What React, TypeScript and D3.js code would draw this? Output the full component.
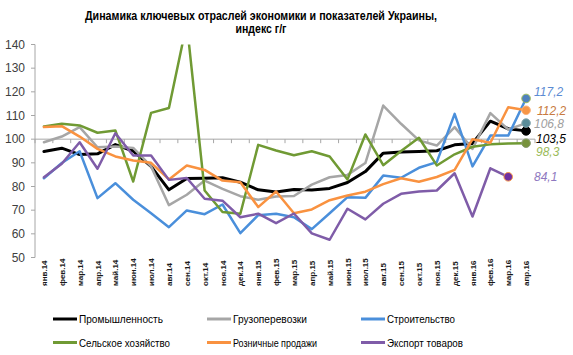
import React from "react";
import * as d3 from "d3";

const categories = [
  "янв.14","фев.14","мар.14","апр.14","май.14","июн.14","июл.14","авг.14","сен.14","окт.14","ноя.14","дек.14",
  "янв.15","фев.15","мар.15","апр.15","май.15","июн.15","июл.15","авг.15","сен.15","окт.15","ноя.15","дек.15",
  "янв.16","фев.16","мар.16","апр.16",
];

const industry = [94.8, 96.2, 93.5, 93.8, 97.7, 95.0, 88.5, 78.6, 83.4, 83.5, 83.7, 81.8, 78.6, 77.7, 78.7, 78.5, 79.2, 81.7, 86.3, 94.1, 94.6, 94.8, 95.1, 97.6, 98.2, 107.6, 104.4, 103.5];
const freight = [98.7, 101.1, 105.1, 96.6, 96.9, 96.3, 88.5, 72.1, 76.5, 82.5, 79.0, 75.9, 74.4, 75.8, 76.0, 80.8, 83.9, 84.9, 89.9, 114.2, 106.5, 99.5, 97.3, 105.1, 95.9, 111.0, 104.1, 106.8];
const construction = [83.5, 89.9, 94.9, 75.1, 81.4, 74.4, 68.7, 62.8, 69.9, 68.3, 72.4, 60.3, 67.9, 68.5, 67.0, 62.0, 68.7, 75.5, 75.2, 84.6, 83.7, 87.9, 90.3, 110.7, 88.5, 101.5, 101.5, 117.2];
const agriculture = [105.4, 106.5, 105.8, 102.7, 103.7, 82.1, 111.1, 113.2, 149.0, 78.3, 69.2, 68.5, 97.6, 95.2, 93.2, 94.9, 92.7, 83.0, 102.0, 89.0, 95.0, 100.6, 88.9, 93.6, 96.8, 97.8, 98.2, 98.3];
const retail = [105.1, 105.5, 101.1, 95.9, 92.7, 91.0, 90.0, 83.0, 88.9, 87.0, 82.5, 81.8, 71.3, 77.9, 68.7, 70.3, 74.2, 76.2, 77.8, 81.0, 83.5, 82.0, 84.0, 87.0, 100.0, 98.5, 113.5, 112.2];
const exportGoods = [83.9, 89.6, 98.7, 87.5, 102.5, 93.1, 93.1, 82.8, 83.6, 74.8, 74.0, 67.0, 68.5, 64.5, 68.6, 60.2, 57.5, 70.6, 66.1, 72.7, 76.9, 77.9, 78.3, 85.6, 67.3, 87.7, 84.1];

const yTicks = [50, 60, 70, 80, 90, 100, 110, 120, 130, 140];

const titleLines = ["Динамика ключевых отраслей экономики  и показателей Украины,", "индекс г/г"];

const seriesNames = ["Промышленность", "Грузоперевозки", "Строительство", "Сельское хозяйство", "Розничные продажи", "Экспорт товаров"];
const seriesData = [industry, freight, construction, agriculture, retail, exportGoods];
const labelTexts = ["103,5", "106,8", "117,2", "98,3", "112,2", "84,1"];

// styles
const seriesColors = ["#000000", "#a6a6a6", "#4a8fdb", "#709a34", "#f99240", "#7f5ca8"];
const seriesWidths = [3, 2.5, 2.5, 2.5, 2.5, 2.5];
const markerFill = ["#000000", "#5a8c98", "#4f81bd", "#77933c", "#f79646", "#7030a0"];
const markerStroke = ["#000000", "#8aa9b0", "#9bbb59", "#8a9a70", "#fbb27a", "#f79646"];
const labelColors = ["#000000", "#a0a0a0", "#5b8bd3", "#9bbb59", "#c87a40", "#8e78c0"];
const labelYs = [138.5, 124, 91.5, 152, 111, 176.5];
const labelXs = [536, 534, 534, 536, 537, 534];
const legendWidths = [84, 74, 68, 91, 84, 76];
const titleWidths = [352, 51];

export default function App() {
  const W = 573, H = 355;
  const left = 35, right = 535, top = 44.5, bottom = 257.5;
  const x = d3.scaleBand<string>().domain(categories).range([left, right]);
  const cx = (i: number) => (x(categories[i]) as number) + x.bandwidth() / 2;
  const y = d3.scaleLinear().domain([50, 140]).range([bottom, top]);
  const line = d3.line<number>().x((_, i) => cx(i)).y((d) => y(d));
  const font = "'Liberation Sans', Arial, sans-serif";
  const y100 = y(100);

  const legendCols = [53, 207, 361];
  const legendRows = [319, 342.5];

  return (
    <svg width={W} height={H} style={{ display: "block", position: "absolute", left: 0, top: 0 }} fontFamily={font}>
      <defs>
        <clipPath id="plotclip">
          <rect x={left} y={top} width={right - left} height={bottom - top} />
        </clipPath>
      </defs>
      <rect width={W} height={H} fill="#ffffff" />
      {titleLines.map((t, i) => (
        <text
          key={i}
          x={261}
          y={19.5 + i * 13}
          textAnchor="middle"
          fontSize={12.5}
          fontWeight="bold"
          fill="#000"
          textLength={titleWidths[i]}
          lengthAdjust="spacingAndGlyphs"
        >
          {t}
        </text>
      ))}
      {/* y axis */}
      <line x1={left} x2={left} y1={top} y2={bottom} stroke="#a6a6a6" strokeWidth={1} />
      {yTicks.map((t) => (
        <g key={t}>
          <line x1={left - 4} x2={left} y1={y(t)} y2={y(t)} stroke="#a6a6a6" />
          <text x={25} y={y(t)} dy="0.35em" textAnchor="end" fontSize={12} fill="#404040">
            {t}
          </text>
        </g>
      ))}
      {/* horizontal axis at 100 */}
      <line x1={left} x2={right} y1={y100} y2={y100} stroke="#a6a6a6" strokeWidth={1} />
      {d3.range(categories.length + 1).map((k) => {
        const xx = left + k * x.step();
        return <line key={k} x1={xx} x2={xx} y1={y100} y2={y100 + 4} stroke="#a6a6a6" />;
      })}
      {categories.map((c, i) => (
        <text
          key={c}
          transform={`translate(${cx(i) + 3},286) rotate(-90)`}
          textAnchor="start"
          fontSize={8}
          fontWeight="bold"
          fill="#1a1a1a"
        >
          {c}
        </text>
      ))}
      <g clipPath="url(#plotclip)">
        {seriesData.map((s, k) => (
          <path
            key={k}
            d={line(s) as string}
            fill="none"
            stroke={seriesColors[k]}
            strokeWidth={seriesWidths[k]}
            strokeLinejoin="round"
            strokeLinecap="round"
          />
        ))}
      </g>
      {seriesData.map((s, k) => {
        const i = s.length - 1;
        return (
          <circle key={k} cx={cx(i)} cy={y(s[i])} r={4.3} fill={markerFill[k]} stroke={markerStroke[k]} strokeWidth={1} />
        );
      })}
      {labelTexts.map((t, k) => (
        <text key={k} x={labelXs[k]} y={labelYs[k]} dy="0.35em" fontSize={12} fontStyle="italic" fill={labelColors[k]}>
          {t}
        </text>
      ))}
      {seriesNames.map((n, k) => {
        const col = k % 3, row = Math.floor(k / 3);
        const lx = legendCols[col], ly = legendRows[row];
        return (
          <g key={n}>
            <line x1={lx} x2={lx + 24} y1={ly} y2={ly} stroke={seriesColors[k]} strokeWidth={3} />
            <text
              x={lx + 26}
              y={ly}
              dy="0.35em"
              fontSize={11.5}
              fill="#000"
              textLength={legendWidths[k]}
              lengthAdjust="spacingAndGlyphs"
            >
              {n}
            </text>
          </g>
        );
      })}
    </svg>
  );
}
